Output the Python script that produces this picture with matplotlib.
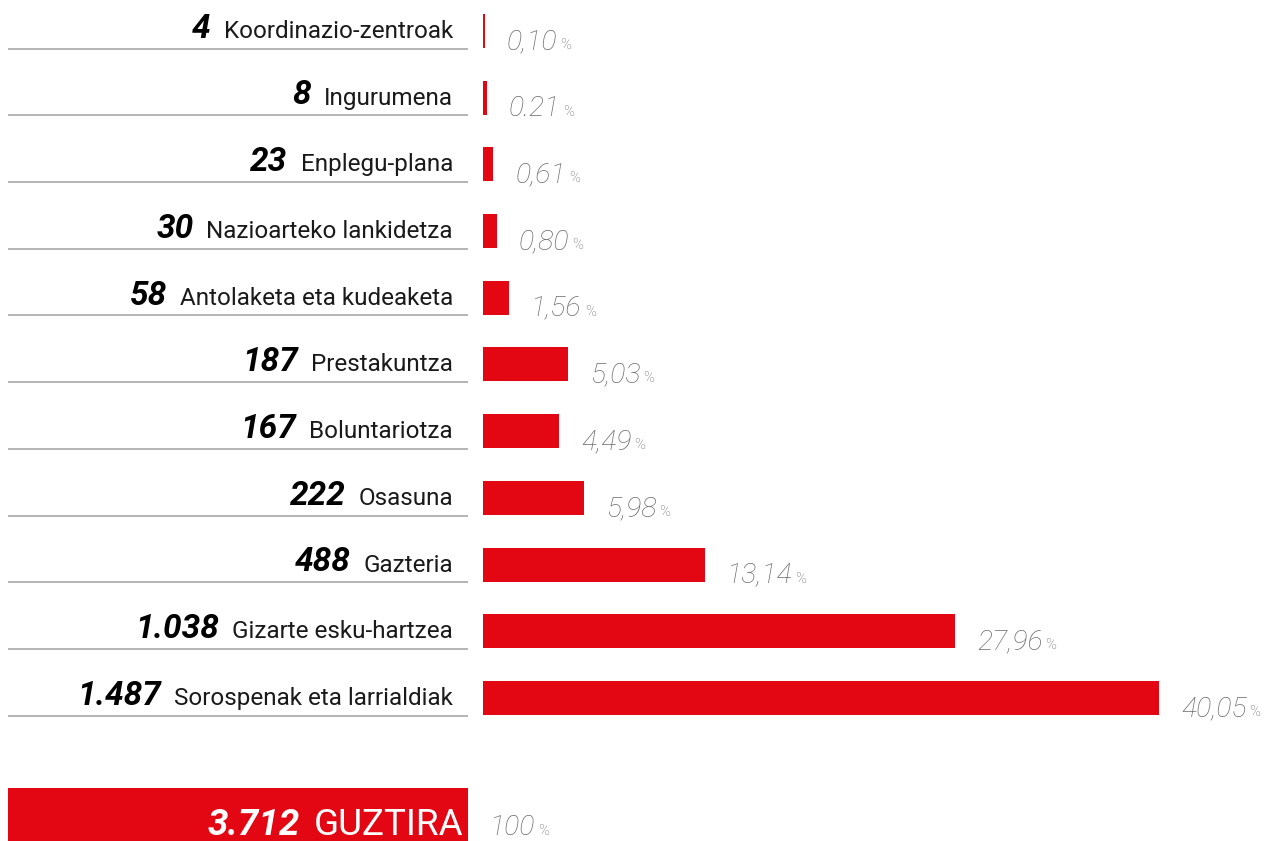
import matplotlib
matplotlib.use("Agg")
import matplotlib.pyplot as plt
import matplotlib.transforms as mtransforms
from matplotlib.patches import Rectangle

plt.rcParams['font.family'] = ['Roboto', 'DejaVu Sans']

categorias = ["Koordinazio-zentroak", "Ingurumena", "Enplegu-plana",
              "Nazioarteko lankidetza", "Antolaketa eta kudeaketa", "Prestakuntza",
              "Boluntariotza", "Osasuna", "Gazteria", "Gizarte esku-hartzea",
              "Sorospenak eta larrialdiak"]
valores = [4, 8, 23, 30, 58, 187, 167, 222, 488, 1038, 1487]
valores_txt = ["4", "8", "23", "30", "58", "187", "167", "222", "488", "1.038", "1.487"]
porcentajes = ["0,10", "0.21", "0,61", "0,80", "1,56", "5,03", "4,49", "5,98",
               "13,14", "27,96", "40,05"]
total_txt = "3.712"
total_nombre = "GUZTIRA"
total_pct = "100"

ROJO = "#e30613"
GRIS = "#6c6c6c"
LINEA = "#a8a8a8"

W, H = 1274, 841
fig = plt.figure(figsize=(W / 100, H / 100), dpi=100)

# ejes de las barras: x=0 en el pixel 483, 1487 -> 676 px
x0 = 483
escala = 676 / 1487
paso = 66.7
centro0 = 31
ax = fig.add_axes([x0 / W, 0, (W - x0) / W, 1])
ax.set_xlim(0, (W - x0) / escala)
ax.set_ylim((H - centro0) / paso, -centro0 / paso)
ax.axis("off")

alto = 34 / paso
filas = list(range(len(categorias)))
ax.barh(filas, valores, height=alto, color=ROJO, align="center")

# lineas grises bajo las etiquetas
trans = mtransforms.blended_transform_factory(fig.transFigure, ax.transData)
for i in filas:
    ax.plot([8 / W, 468 / W], [i + alto / 2 + 0.01] * 2, color=LINEA, lw=1.2,
            transform=trans, clip_on=False, solid_capstyle="butt")

for i in filas:
    nombre = ax.annotate(categorias[i], xy=(0, i), xytext=(-30, -7),
                         textcoords="offset pixels", ha="right", va="baseline",
                         fontsize=17.5, color="#1a1a1a", annotation_clip=False)
    ax.annotate(valores_txt[i], xy=(0, 0), xycoords=nombre, xytext=(-13, -1.8),
                textcoords="offset pixels", ha="right", va="bottom",
                fontsize=24, fontweight="bold", fontstyle="italic", color="black")
    pct = ax.annotate(porcentajes[i], xy=(valores[i], i), xytext=(22, -18),
                      textcoords="offset pixels", ha="left", va="baseline",
                      fontsize=20.5, fontweight="light", fontstyle="italic",
                      color=GRIS, annotation_clip=False)
    ax.annotate("%", xy=(1, 0), xycoords=pct, xytext=(3, 3),
                textcoords="offset pixels", ha="left", va="bottom",
                fontsize=10.5, fontweight="light", color=GRIS)

# caja del total
caja = Rectangle((8 / W, 0), 460 / W, 53 / H, transform=fig.transFigure,
                 facecolor=ROJO, edgecolor="none", clip_on=False, zorder=1)
ax.add_patch(caja)
guz = ax.text(463 / W, 6 / H, total_nombre, transform=fig.transFigure,
              ha="right", va="baseline", fontsize=26.5, color="white",
              clip_on=False, zorder=3)
ax.annotate(total_txt, xy=(0, 0), xycoords=guz, xytext=(-13, 0),
            textcoords="offset pixels", ha="right", va="bottom",
            fontsize=26.5, fontweight="bold", fontstyle="italic", color="white",
            zorder=3)
cien = ax.text(490 / W, 6 / H, total_pct, transform=fig.transFigure,
               ha="left", va="baseline", fontsize=20.5, fontweight="light",
               fontstyle="italic", color=GRIS, clip_on=False)
ax.annotate("%", xy=(1, 0), xycoords=cien, xytext=(3, 3),
            textcoords="offset pixels", ha="left", va="bottom",
            fontsize=10.5, fontweight="light", color=GRIS)

fig.savefig("out.png", dpi=100)
